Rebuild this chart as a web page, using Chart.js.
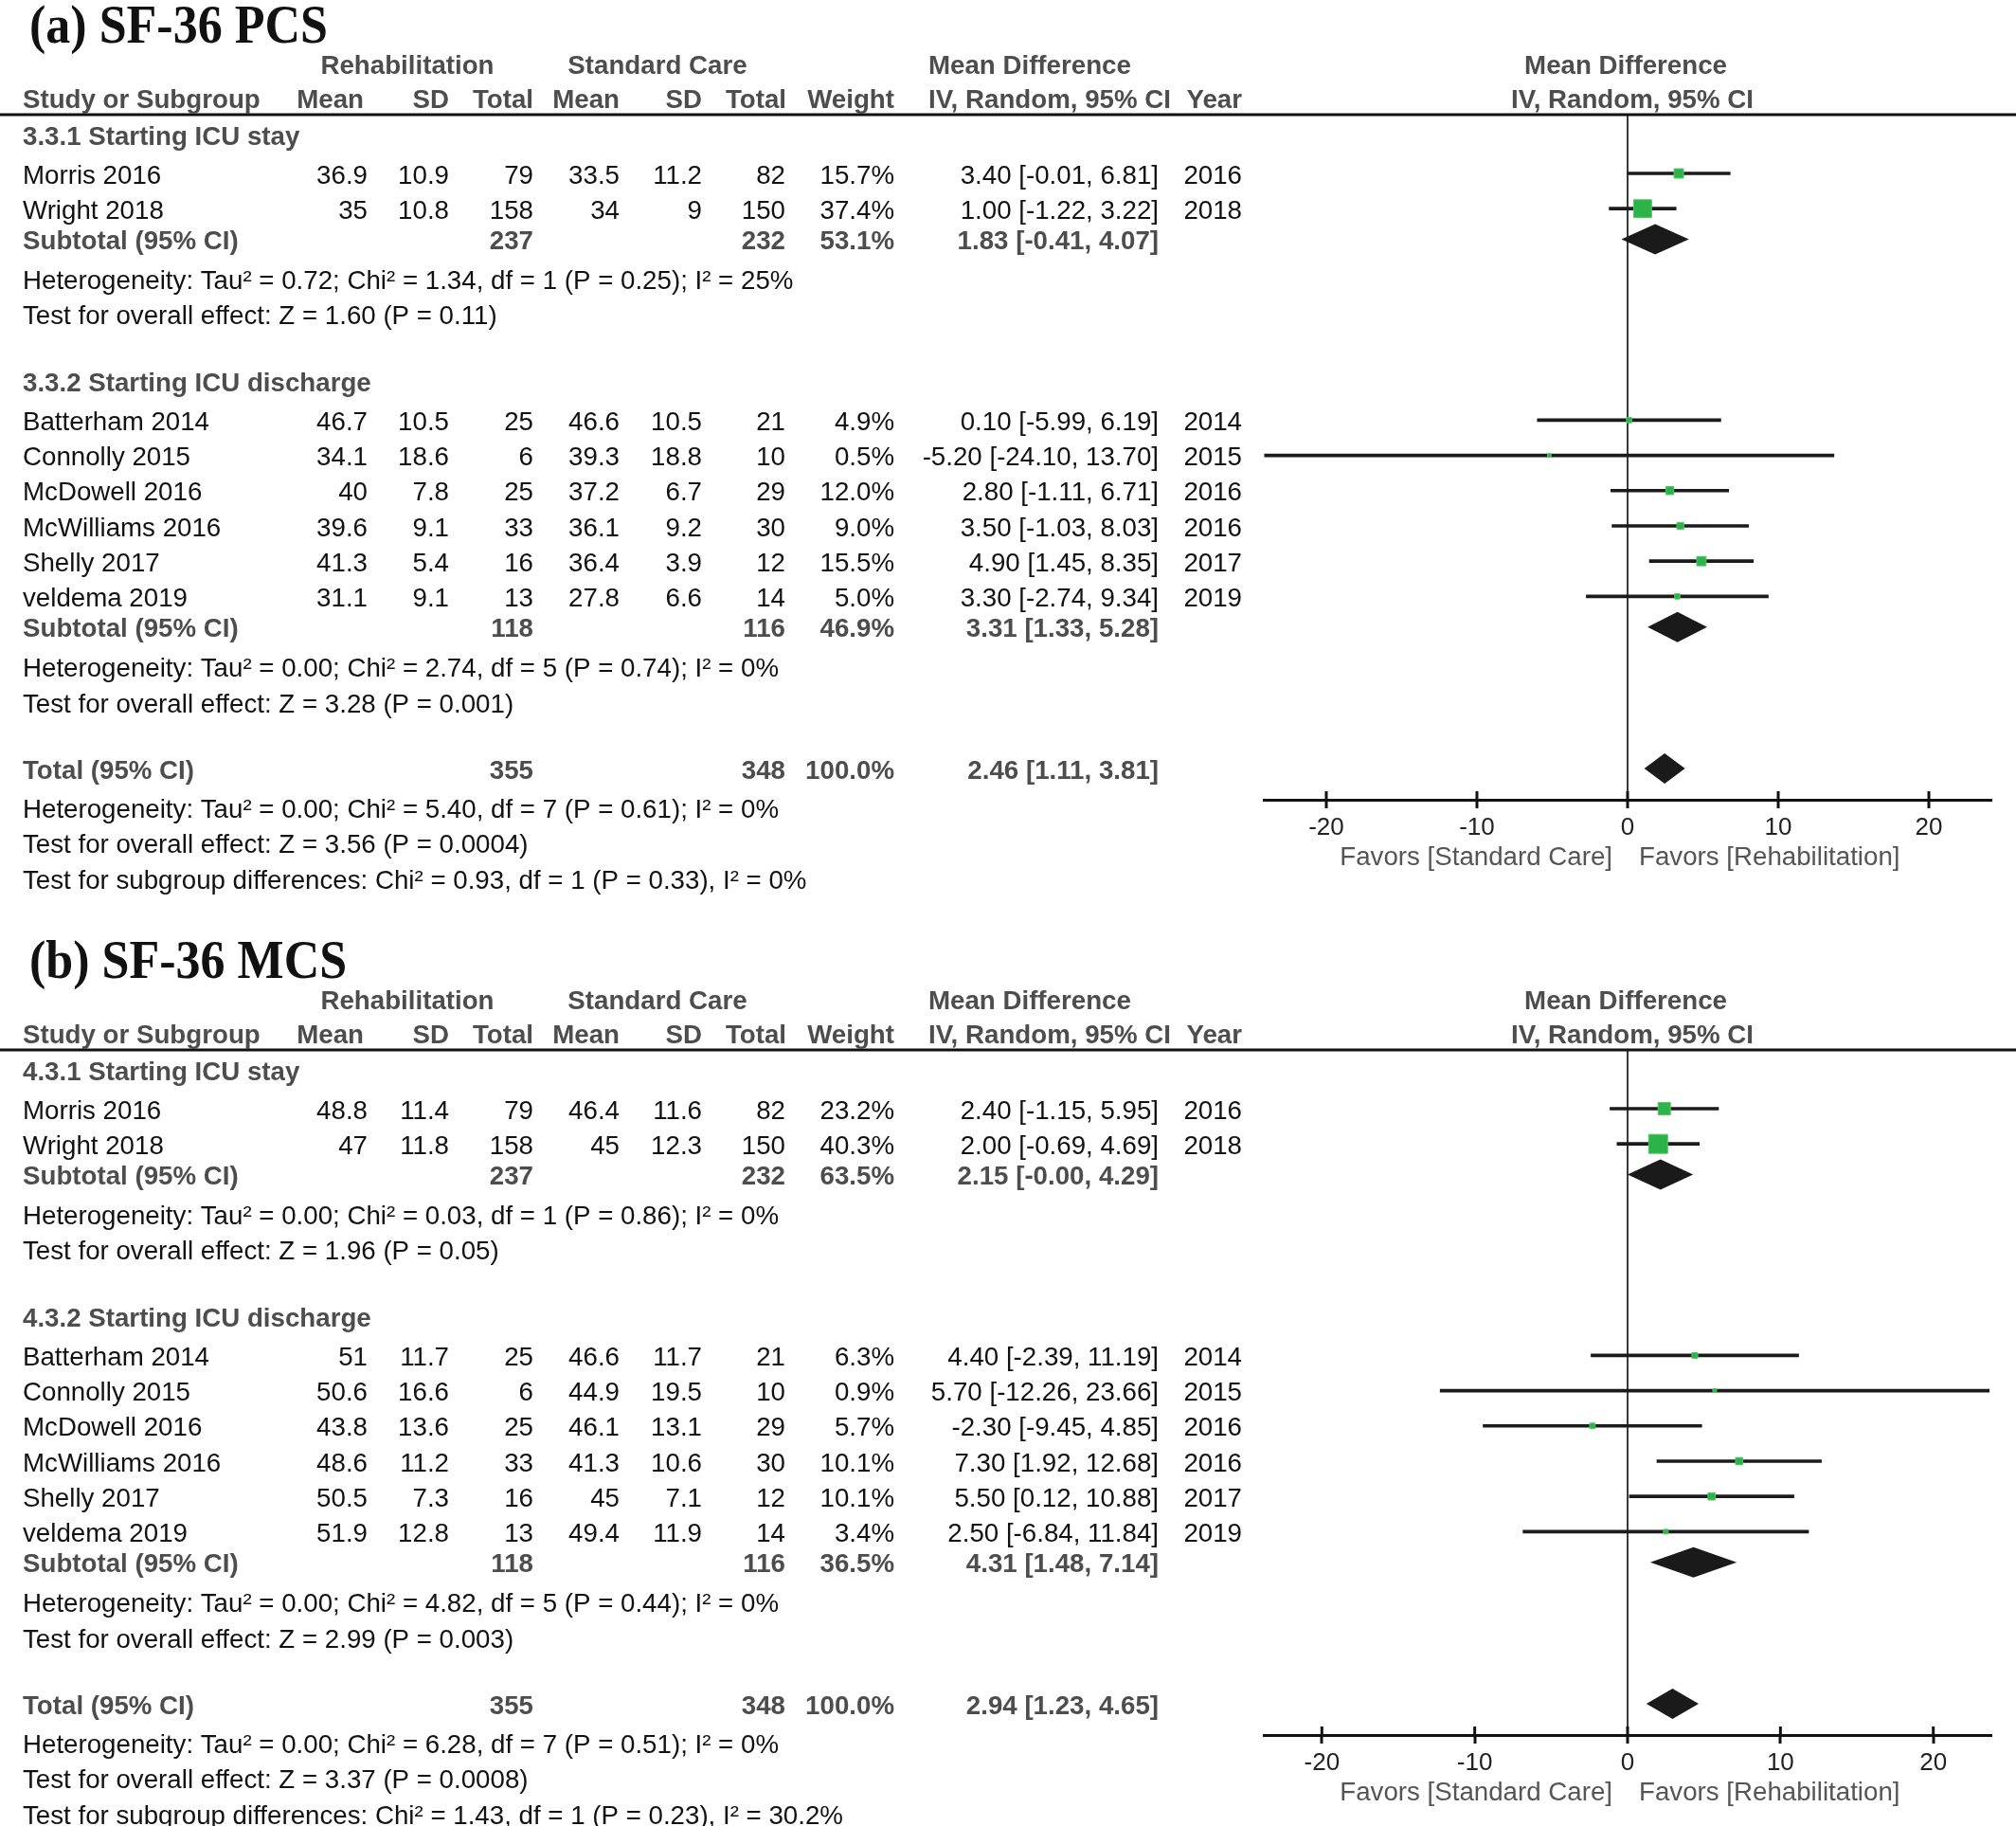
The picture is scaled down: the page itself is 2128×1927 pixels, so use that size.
<!DOCTYPE html>
<html lang="en">
<head>
<meta charset="UTF-8">
<title>SF-36 PCS / MCS forest plots</title>
<script src="https://cdn.jsdelivr.net/npm/chart.js@4.4.1/dist/chart.umd.min.js"></script>
<style>
  html, body { margin: 0; padding: 0; background: #fff; overflow: hidden; }
  body { width: 2128px; height: 1927px; position: relative; }
  canvas { position: absolute; left: 0; }
  #pcsChart { top: 0; }
  #mcsChart { top: 987px; }
</style>
</head>
<body>
<canvas id="pcsChart" width="2128" height="987"></canvas>
<canvas id="mcsChart" width="2128" height="987"></canvas>
<script>
// studies, same in both outcomes
const studies = ['Morris 2016', 'Wright 2018', 'Batterham 2014', 'Connolly 2015', 'McDowell 2016', 'McWilliams 2016', 'Shelly 2017', 'veldema 2019'];
const years = [2016, 2018, 2014, 2015, 2016, 2016, 2017, 2019];
const studyGroup = [0, 0, 1, 1, 1, 1, 1, 1];
const rehabN = [79, 158, 25, 6, 25, 33, 16, 13];
const careN = [82, 150, 21, 10, 29, 30, 12, 14];
const subRehabN = [237, 118];
const subCareN = [232, 116];
const totalN = [355, 348];
const mdTicks = [-20, -10, 0, 10, 20];

// (a) SF-36 PCS
const pcsGroups = ['3.3.1 Starting ICU stay', '3.3.2 Starting ICU discharge'];
const pcsRehabMean = [36.9, 35, 46.7, 34.1, 40, 39.6, 41.3, 31.1];
const pcsRehabSD = [10.9, 10.8, 10.5, 18.6, 7.8, 9.1, 5.4, 9.1];
const pcsCareMean = [33.5, 34, 46.6, 39.3, 37.2, 36.1, 36.4, 27.8];
const pcsCareSD = [11.2, 9, 10.5, 18.8, 6.7, 9.2, 3.9, 6.6];
const pcsWeight = [15.7, 37.4, 4.9, 0.5, 12.0, 9.0, 15.5, 5.0];
const pcsMD = [3.40, 1.00, 0.10, -5.20, 2.80, 3.50, 4.90, 3.30];
const pcsLow = [-0.01, -1.22, -5.99, -24.10, -1.11, -1.03, 1.45, -2.74];
const pcsHigh = [6.81, 3.22, 6.19, 13.70, 6.71, 8.03, 8.35, 9.34];
const pcsSubWeight = [53.1, 46.9];
const pcsSubMD = [1.83, 3.31];
const pcsSubLow = [-0.41, 1.33];
const pcsSubHigh = [4.07, 5.28];
const pcsTotal = [2.46, 1.11, 3.81];
const pcsHetero = ['Tau² = 0.72; Chi² = 1.34, df = 1 (P = 0.25); I² = 25%', 'Tau² = 0.00; Chi² = 2.74, df = 5 (P = 0.74); I² = 0%', 'Tau² = 0.00; Chi² = 5.40, df = 7 (P = 0.61); I² = 0%'];
const pcsOverall = ['Z = 1.60 (P = 0.11)', 'Z = 3.28 (P = 0.001)', 'Z = 3.56 (P = 0.0004)'];
const pcsSubgroupDiff = 'Chi² = 0.93, df = 1 (P = 0.33), I² = 0%';

// (b) SF-36 MCS
const mcsGroups = ['4.3.1 Starting ICU stay', '4.3.2 Starting ICU discharge'];
const mcsRehabMean = [48.8, 47, 51, 50.6, 43.8, 48.6, 50.5, 51.9];
const mcsRehabSD = [11.4, 11.8, 11.7, 16.6, 13.6, 11.2, 7.3, 12.8];
const mcsCareMean = [46.4, 45, 46.6, 44.9, 46.1, 41.3, 45, 49.4];
const mcsCareSD = [11.6, 12.3, 11.7, 19.5, 13.1, 10.6, 7.1, 11.9];
const mcsWeight = [23.2, 40.3, 6.3, 0.9, 5.7, 10.1, 10.1, 3.4];
const mcsMD = [2.40, 2.00, 4.40, 5.70, -2.30, 7.30, 5.50, 2.50];
const mcsLow = [-1.15, -0.69, -2.39, -12.26, -9.45, 1.92, 0.12, -6.84];
const mcsHigh = [5.95, 4.69, 11.19, 23.66, 4.85, 12.68, 10.88, 11.84];
const mcsSubWeight = [63.5, 36.5];
const mcsSubMD = [2.15, 4.31];
const mcsSubLow = [-0.004, 1.48];
const mcsSubHigh = [4.29, 7.14];
const mcsTotal = [2.94, 1.23, 4.65];
const mcsHetero = ['Tau² = 0.00; Chi² = 0.03, df = 1 (P = 0.86); I² = 0%', 'Tau² = 0.00; Chi² = 4.82, df = 5 (P = 0.44); I² = 0%', 'Tau² = 0.00; Chi² = 6.28, df = 7 (P = 0.51); I² = 0%'];
const mcsOverall = ['Z = 1.96 (P = 0.05)', 'Z = 2.99 (P = 0.003)', 'Z = 3.37 (P = 0.0008)'];
const mcsSubgroupDiff = 'Chi² = 1.43, df = 1 (P = 0.23), I² = 30.2%';

const FONT = '"Liberation Sans", Arial, sans-serif';
const GREY = '#4d4d4d';
const INK = '#111';
// column anchors (px)
const COL = { name: 24, rMean: 388, rSD: 474, rN: 563, cMean: 654, cSD: 741, cN: 829, weight: 944, md: 1223, mdHead: 980, year: 1311 };

const fmtCI = (m, lo, hi) => m.toFixed(2) + ' [' + lo.toFixed(2) + ', ' + hi.toFixed(2) + ']';
const markerSide = w => 3.5 + 0.41 * w;

// lines of the table, one unit per text row
function buildRows(p) {
  const rows = [];
  let line = -1;
  p.groups.forEach((g, gi) => {
    rows.push({ kind: 'group', line: line - 0.1, text: g });
    line++;
    studies.forEach((s, i) => {
      if (studyGroup[i] !== gi) return;
      rows.push({ kind: 'study', line: line, i: i });
      line++;
    });
    rows.push({ kind: 'subtotal', line: line - 0.13, gi: gi }); line++;
    rows.push({ kind: 'note', line: line, text: 'Heterogeneity: ' + p.hetero[gi] }); line++;
    rows.push({ kind: 'note', line: line, text: 'Test for overall effect: ' + p.overall[gi] }); line++;
    line++;
  });
  rows.push({ kind: 'total', line: line - 0.12 }); line++;
  rows.push({ kind: 'note', line: line, text: 'Heterogeneity: ' + p.hetero[2] }); line++;
  rows.push({ kind: 'note', line: line, text: 'Test for overall effect: ' + p.overall[2] }); line++;
  rows.push({ kind: 'note', line: line, text: 'Test for subgroup differences: ' + p.subgroup });
  return rows;
}

function put(ctx, s, x, y, align, font, color) {
  ctx.font = font;
  ctx.fillStyle = color;
  ctx.textAlign = align;
  ctx.textBaseline = 'middle';
  ctx.fillText(s, x, y);
}

function drawPanel(canvasId, p) {
  const rows = buildRows(p);
  const studyLine = studies.map((s, i) => rows.find(r => r.kind === 'study' && r.i === i).line);
  const subLine = [0, 1].map(gi => rows.find(r => r.kind === 'subtotal' && r.gi === gi).line);
  const totalLine = rows.find(r => r.kind === 'total').line;

  const forestPlugin = {
    id: 'forest',
    afterDatasetsDraw(chart) {
      const ctx = chart.ctx, xs = chart.scales.x, ys = chart.scales.y;
      const diamond = (m, lo, hi, line) => {
        const y = ys.getPixelForValue(line);
        ctx.beginPath();
        ctx.moveTo(xs.getPixelForValue(lo), y);
        ctx.lineTo(xs.getPixelForValue(m), y - 16);
        ctx.lineTo(xs.getPixelForValue(hi), y);
        ctx.lineTo(xs.getPixelForValue(m), y + 16);
        ctx.closePath();
        ctx.fillStyle = '#1a1a1a';
        ctx.fill();
      };
      ctx.save();
      p.subMD.forEach((m, gi) => diamond(m, p.subLow[gi], p.subHigh[gi], subLine[gi]));
      diamond(p.total[0], p.total[1], p.total[2], totalLine);
      ctx.restore();
    },
    afterDraw(chart) {
      const ctx = chart.ctx, xs = chart.scales.x, ys = chart.scales.y;
      // text sits a few px lower than the marks of its row
      const Y = l => ys.getPixelForValue(l) + 3;
      const x0 = xs.getPixelForValue(0);
      const reg = '27.7px ' + FONT, bold = 'bold 27.7px ' + FONT;
      ctx.save();
      // upper half of the tick marks
      ctx.strokeStyle = '#111';
      ctx.lineWidth = 3;
      xs.ticks.forEach(t => {
        const x = xs.getPixelForValue(t.value);
        ctx.beginPath();
        ctx.moveTo(x, chart.chartArea.bottom - 9);
        ctx.lineTo(x, chart.chartArea.bottom);
        ctx.stroke();
      });
      // header rule
      ctx.lineWidth = 3;
      ctx.beginPath();
      ctx.moveTo(0, chart.chartArea.top);
      ctx.lineTo(chart.width, chart.chartArea.top);
      ctx.stroke();

      // panel title, slightly condensed like the source
      ctx.save();
      ctx.translate(31, Y(-4.2));
      ctx.scale(1, 1.1);
      put(ctx, p.title, 0, 0, 'left', 'bold 52px "Liberation Serif", "Times New Roman", serif', INK);
      ctx.restore();

      const h1 = Y(-3.1), h2 = Y(-2.13);
      put(ctx, 'Rehabilitation', 430, h1, 'center', bold, GREY);
      put(ctx, 'Standard Care', 694, h1, 'center', bold, GREY);
      put(ctx, 'Mean Difference', COL.mdHead, h1, 'left', bold, GREY);
      put(ctx, 'Mean Difference', x0 - 2, h1, 'center', bold, GREY);
      put(ctx, 'Study or Subgroup', COL.name, h2, 'left', bold, GREY);
      put(ctx, 'Mean', COL.rMean - 4, h2, 'right', bold, GREY);
      put(ctx, 'SD', COL.rSD, h2, 'right', bold, GREY);
      put(ctx, 'Total', COL.rN, h2, 'right', bold, GREY);
      put(ctx, 'Mean', COL.cMean, h2, 'right', bold, GREY);
      put(ctx, 'SD', COL.cSD, h2, 'right', bold, GREY);
      put(ctx, 'Total', COL.cN + 1, h2, 'right', bold, GREY);
      put(ctx, 'Weight', COL.weight, h2, 'right', bold, GREY);
      put(ctx, 'IV, Random, 95% CI', COL.mdHead, h2, 'left', bold, GREY);
      put(ctx, 'Year', COL.year, h2, 'right', bold, GREY);
      put(ctx, 'IV, Random, 95% CI', x0 + 5, h2, 'center', bold, GREY);

      rows.forEach(r => {
        const y = Y(r.line);
        if (r.kind === 'group') {
          put(ctx, r.text, COL.name, y, 'left', bold, GREY);
        } else if (r.kind === 'note') {
          put(ctx, r.text, COL.name, y, 'left', reg, INK);
        } else if (r.kind === 'study') {
          const i = r.i;
          put(ctx, studies[i], COL.name, y, 'left', reg, INK);
          put(ctx, String(p.rMean[i]), COL.rMean, y, 'right', reg, INK);
          put(ctx, String(p.rSD[i]), COL.rSD, y, 'right', reg, INK);
          put(ctx, String(rehabN[i]), COL.rN, y, 'right', reg, INK);
          put(ctx, String(p.cMean[i]), COL.cMean, y, 'right', reg, INK);
          put(ctx, String(p.cSD[i]), COL.cSD, y, 'right', reg, INK);
          put(ctx, String(careN[i]), COL.cN, y, 'right', reg, INK);
          put(ctx, p.weight[i].toFixed(1) + '%', COL.weight, y, 'right', reg, INK);
          put(ctx, fmtCI(p.md[i], p.low[i], p.high[i]), COL.md, y, 'right', reg, INK);
          put(ctx, String(years[i]), COL.year, y, 'right', reg, INK);
        } else if (r.kind === 'subtotal') {
          const gi = r.gi;
          put(ctx, 'Subtotal (95% CI)', COL.name, y, 'left', bold, GREY);
          put(ctx, String(subRehabN[gi]), COL.rN, y, 'right', bold, GREY);
          put(ctx, String(subCareN[gi]), COL.cN, y, 'right', bold, GREY);
          put(ctx, p.subWeight[gi].toFixed(1) + '%', COL.weight, y, 'right', bold, GREY);
          put(ctx, fmtCI(p.subMD[gi], p.subLow[gi], p.subHigh[gi]), COL.md, y, 'right', bold, GREY);
        } else if (r.kind === 'total') {
          put(ctx, 'Total (95% CI)', COL.name, y, 'left', bold, GREY);
          put(ctx, String(totalN[0]), COL.rN, y, 'right', bold, GREY);
          put(ctx, String(totalN[1]), COL.cN, y, 'right', bold, GREY);
          put(ctx, '100.0%', COL.weight, y, 'right', bold, GREY);
          put(ctx, fmtCI(p.total[0], p.total[1], p.total[2]), COL.md, y, 'right', bold, GREY);
        }
      });

      const fy = Y(19.35);
      put(ctx, 'Favors [Standard Care]', x0 - 16, fy, 'right', reg, '#555');
      put(ctx, 'Favors [Rehabilitation]', x0 + 12, fy, 'left', reg, '#555');
      ctx.restore();
    }
  };

  return new Chart(document.getElementById(canvasId), {
    type: 'bar',
    data: {
      datasets: [
        {
          type: 'scatter',
          data: studies.map((s, i) => ({ x: p.md[i], y: studyLine[i] })),
          pointStyle: 'rect',
          pointRadius: c => markerSide(p.weight[c.dataIndex]) / Math.SQRT2,
          backgroundColor: '#2cb34a',
          borderColor: '#55c567',
          borderWidth: 1,
          order: 1
        },
        {
          type: 'bar',
          indexAxis: 'y',
          data: studies.map((s, i) => ({ x: [p.low[i], p.high[i]], y: studyLine[i] })),
          backgroundColor: '#1b1b1b',
          borderWidth: 0,
          barThickness: 3,
          order: 2
        }
      ]
    },
    options: {
      responsive: false,
      animation: false,
      devicePixelRatio: 1,
      events: [],
      layout: { padding: { left: 1334, right: 26, top: 121, bottom: 0 } },
      plugins: { legend: { display: false }, tooltip: { enabled: false }, title: { display: false } },
      scales: {
        x: {
          type: 'linear',
          offset: false,
          min: -p.range,
          max: p.range,
          bounds: 'data',
          afterBuildTicks: s => { s.ticks = mdTicks.map(v => ({ value: v })); },
          afterFit: s => { s.height = 987 - 844; },
          border: { display: true, color: '#111', width: 3 },
          grid: {
            offset: false,
            color: c => (c.tick && c.tick.value === 0) ? '#3a3a3a' : 'rgba(0,0,0,0)',
            lineWidth: 2,
            drawTicks: true,
            tickLength: 9,
            tickColor: '#111',
            tickWidth: 3
          },
          ticks: { font: { family: FONT, size: 26 }, color: '#222', padding: 5, maxRotation: 0, autoSkip: false }
        },
        y: {
          type: 'linear', reverse: true, offset: false, beginAtZero: false,
          min: -1.667, max: 17.77, bounds: 'data', display: false,
          grid: { offset: false }
        }
      }
    },
    plugins: [forestPlugin]
  });
}

drawPanel('pcsChart', {
  title: '(a) SF-36 PCS', range: 24.15, groups: pcsGroups,
  rMean: pcsRehabMean, rSD: pcsRehabSD, cMean: pcsCareMean, cSD: pcsCareSD,
  weight: pcsWeight, md: pcsMD, low: pcsLow, high: pcsHigh,
  subWeight: pcsSubWeight, subMD: pcsSubMD, subLow: pcsSubLow, subHigh: pcsSubHigh,
  total: pcsTotal, hetero: pcsHetero, overall: pcsOverall, subgroup: pcsSubgroupDiff
});
drawPanel('mcsChart', {
  title: '(b) SF-36 MCS', range: 23.8, groups: mcsGroups,
  rMean: mcsRehabMean, rSD: mcsRehabSD, cMean: mcsCareMean, cSD: mcsCareSD,
  weight: mcsWeight, md: mcsMD, low: mcsLow, high: mcsHigh,
  subWeight: mcsSubWeight, subMD: mcsSubMD, subLow: mcsSubLow, subHigh: mcsSubHigh,
  total: mcsTotal, hetero: mcsHetero, overall: mcsOverall, subgroup: mcsSubgroupDiff
});
</script>
</body>
</html>
